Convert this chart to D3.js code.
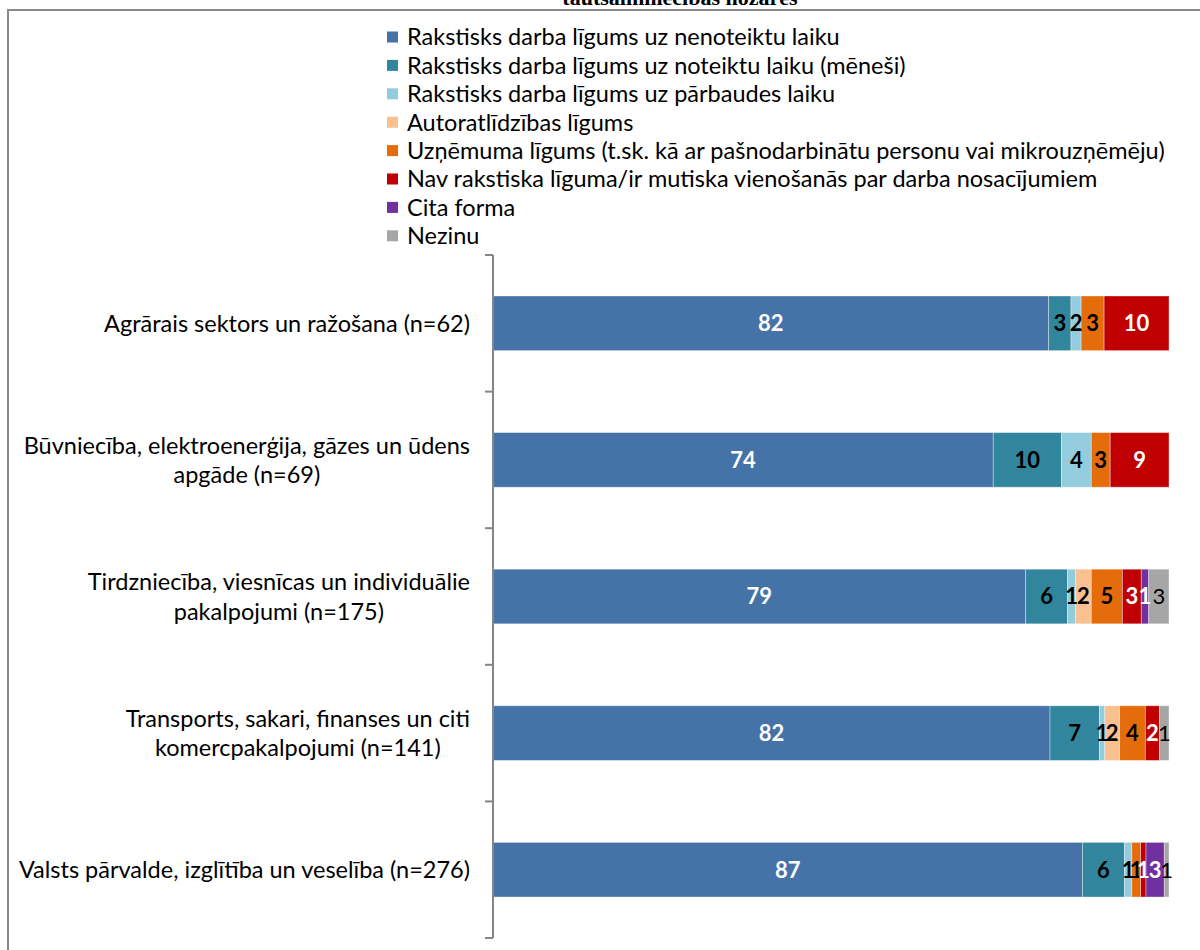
<!DOCTYPE html>
<html>
<head>
<meta charset="utf-8">
<script src="https://cdn.jsdelivr.net/npm/d3@7"></script>
<style>
  html, body { margin: 0; padding: 0; background: #fff; }
  svg { display: block; }
</style>
</head>
<body>
<svg id="chart" width="1200" height="950"></svg>
<script>
const titleText = "tautsaimniecības nozarēs";

const categories = [
  ["Agrārais sektors un ražošana (n=62)"],
  ["Būvniecība, elektroenerģija, gāzes un ūdens", "apgāde (n=69)"],
  ["Tirdzniecība, viesnīcas un individuālie", "pakalpojumi (n=175)"],
  ["Transports, sakari, finanses un citi", "komercpakalpojumi (n=141)"],
  ["Valsts pārvalde, izglītība un veselība (n=276)"]
];

const seriesNames = [
  "Rakstisks darba līgums uz nenoteiktu laiku",
  "Rakstisks darba līgums uz noteiktu laiku (mēneši)",
  "Rakstisks darba līgums uz pārbaudes laiku",
  "Autoratlīdzības līgums",
  "Uzņēmuma līgums (t.sk. kā ar pašnodarbinātu personu vai mikrouzņēmēju)",
  "Nav rakstiska līguma/ir mutiska vienošanās par darba nosacījumiem",
  "Cita forma",
  "Nezinu"
];

const nenoteiktu = [82.2, 74.0, 78.8, 82.4, 87.2];
const noteiktu   = [3.3, 10.1, 6.2, 7.3, 6.2];
const parbaudes  = [1.5, 4.4, 1.2, 0.8, 1.1];
const autoratl   = [0, 0, 2.3, 2.2, 0];
const uznemuma   = [3.4, 2.8, 4.6, 3.8, 1.3];
const navLiguma  = [9.6, 8.7, 2.8, 2.1, 0.8];
const citaForma  = [0, 0, 1.1, 0, 2.7];
const nezinu     = [0, 0, 3.0, 1.4, 0.7];

const xTicks = [0, 100];

const seriesValues = [nenoteiktu, noteiktu, parbaudes, autoratl, uznemuma, navLiguma, citaForma, nezinu];

// styles
const palette = ["#4572A7", "#31859C", "#93CDDD", "#FAC090", "#E46C0A", "#C00000", "#7030A0", "#A6A6A6"];
const labelColor = ["#fff", "#000", "#000", "#000", "#000", "#fff", "#fff", "#000"];
const labelWeight = ["bold", "bold", "bold", "bold", "bold", "bold", "bold", "normal"];
const FONT = "Lato, 'Open Sans', sans-serif";
const TEXT_SIZE = 23.5;

const svg = d3.select("#chart");

// title (cut off at top) and frame
svg.append("text")
  .attr("x", 680).attr("y", 5)
  .attr("text-anchor", "middle")
  .attr("font-family", "'Liberation Serif', serif")
  .attr("font-weight", "bold")
  .attr("font-size", 22)
  .attr("fill", "#000")
  .text(titleText);

svg.append("path")
  .attr("d", "M8,960 L8,10 L1210,10")
  .attr("fill", "none")
  .attr("stroke", "#898989")
  .attr("stroke-width", 2);

// scales
const idx = categories.map((d, i) => i);
const y = d3.scaleBand().domain(idx).range([255, 938]).paddingInner(0.6).paddingOuter(0.3);
const x = d3.scaleLinear().domain(d3.extent(xTicks)).range([493, 1169]);

// stacked data
const rows = idx.map(i => {
  const r = { i };
  seriesValues.forEach((arr, s) => r["s" + s] = arr[i]);
  return r;
});
const stack = d3.stack().keys(seriesValues.map((d, s) => "s" + s));
const stacked = stack(rows);

const g = svg.append("g");
stacked.forEach((layer, s) => {
  const lg = g.append("g");
  lg.selectAll("rect").data(layer).join("rect")
    .attr("x", d => x(d[0]))
    .attr("y", d => y(d.data.i))
    .attr("width", d => Math.max(0, x(d[1]) - x(d[0])))
    .attr("height", y.bandwidth())
    .attr("fill", palette[s])
    .attr("stroke", "rgba(255,255,255,0.45)")
    .attr("stroke-width", 0.8);
});
stacked.forEach((layer, s) => {
  g.append("g").selectAll("text").data(layer.filter(d => d[1] - d[0] > 0)).join("text")
    .attr("x", d => (x(d[0]) + x(d[1])) / 2)
    .attr("y", d => y(d.data.i) + y.bandwidth() / 2)
    .attr("dy", "0.36em")
    .attr("text-anchor", "middle")
    .attr("font-family", FONT)
    .attr("font-size", 22)
    .attr("font-weight", labelWeight[s])
    .attr("fill", labelColor[s])
    .text(d => Math.round(d[1] - d[0]));
});

// axis
const axisG = svg.append("g");
const bounds = idx.map(i => y(i) - (y.step() - y.bandwidth()) / 2)
  .concat([y(idx.length - 1) + y.bandwidth() + (y.step() - y.bandwidth()) / 2]);
axisG.append("line")
  .attr("x1", 493).attr("x2", 493).attr("y1", bounds[0]).attr("y2", bounds[bounds.length - 1])
  .attr("stroke", "#868686").attr("stroke-width", 2);
axisG.selectAll("line.tick").data(bounds).join("line")
  .attr("class", "tick")
  .attr("x1", 485).attr("x2", 493)
  .attr("y1", d => d).attr("y2", d => d)
  .attr("stroke", "#868686").attr("stroke-width", 2);

// category labels
const catG = svg.append("g");
categories.forEach((lines, i) => {
  const t = catG.append("text")
    .attr("font-family", FONT)
    .attr("font-size", TEXT_SIZE)
    .attr("fill", "#000");
  const cy = y(i) + y.bandwidth() / 2;
  const lh = 29.5;
  const tspans = lines.map((ln, k) => t.append("tspan")
    .attr("y", cy + (k - (lines.length - 1) / 2) * lh)
    .attr("dy", "0.36em")
    .text(ln));
  const widths = tspans.map(ts => ts.node().getComputedTextLength());
  const maxW = d3.max(widths);
  const center = 470 - maxW / 2;
  tspans.forEach(ts => ts.attr("x", center).attr("text-anchor", "middle"));
});

// legend
const legG = svg.append("g");
seriesNames.forEach((name, s) => {
  const ly = 37 + s * 28.4;
  legG.append("rect")
    .attr("x", 387).attr("y", ly - 5.5)
    .attr("width", 11).attr("height", 11)
    .attr("fill", palette[s]);
  legG.append("text")
    .attr("x", 407).attr("y", ly)
    .attr("dy", "0.36em")
    .attr("font-family", FONT)
    .attr("font-size", TEXT_SIZE)
    .attr("fill", "#000")
    .text(name);
});
</script>
</body>
</html>
